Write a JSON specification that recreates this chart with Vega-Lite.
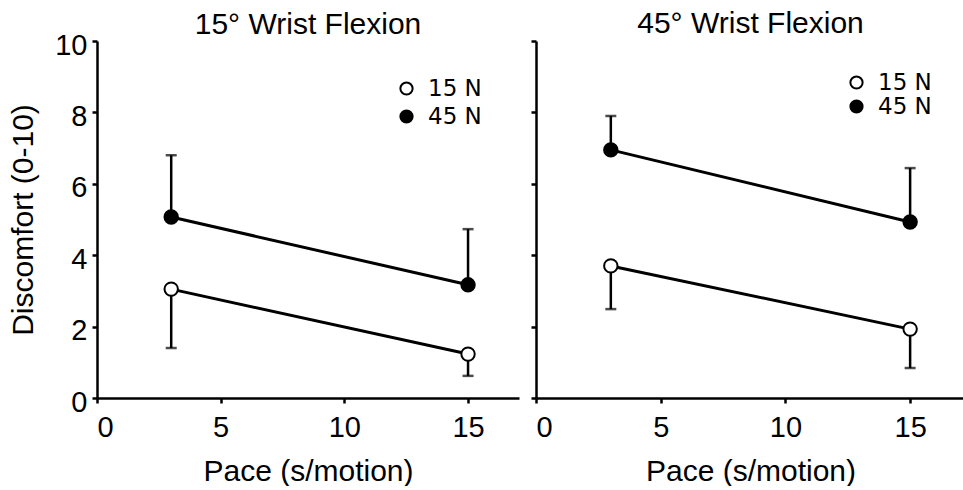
{
  "$schema": "https://vega.github.io/schema/vega-lite/v6.json",
  "padding": {"left": 8, "top": 8, "right": 0, "bottom": 0},
  "background": "white",
  "config": {
    "font": "Liberation Sans",
    "view": {"stroke": null},
    "axis": {"grid": false, "domainColor": "black", "domainWidth": 2.5, "tickColor": "black", "tickWidth": 2.5, "tickSize": 5,
      "labelFont": "Liberation Sans", "labelFontSize": 29, "labelColor": "black", "labelPadding": 10,
      "titleFont": "Liberation Sans", "titleFontSize": 30, "titleFontWeight": "normal", "titleColor": "black", "titlePadding": 14},
    "axisY": {"labelPadding": 5, "labelOffset": 4, "titlePadding": 16},
    "title": {"font": "Liberation Sans", "fontSize": 30, "fontWeight": "normal", "color": "black"},
    "legend": {"title": null, "orient": "none", "labelFont": "DejaVu Sans", "labelFontSize": 23, "labelColor": "black",
      "symbolSize": 150, "symbolType": "circle", "symbolStrokeColor": "black", "symbolStrokeWidth": 2, "labelOffset": 10, "padding": 0}
  },
  "datasets": {
    "d": [
      {"panel": "15", "force": "15 N", "pace": 3, "discomfort": 3.05, "err": 1.4},
      {"panel": "15", "force": "15 N", "pace": 15, "discomfort": 1.23, "err": 0.62},
      {"panel": "15", "force": "45 N", "pace": 3, "discomfort": 5.07, "err": 6.8},
      {"panel": "15", "force": "45 N", "pace": 15, "discomfort": 3.17, "err": 4.73},
      {"panel": "45", "force": "15 N", "pace": 3, "discomfort": 3.7, "err": 2.49},
      {"panel": "45", "force": "15 N", "pace": 15, "discomfort": 1.93, "err": 0.84},
      {"panel": "45", "force": "45 N", "pace": 3, "discomfort": 6.95, "err": 7.9},
      {"panel": "45", "force": "45 N", "pace": 15, "discomfort": 4.93, "err": 6.44}
    ]
  },
  "spacing": 10,
  "resolve": {"scale": {"fill": "independent"}, "legend": {"fill": "independent"}},
  "hconcat": [
    {
      "title": {"text": "15° Wrist Flexion", "offset": -9},
      "width": 422, "height": 357,
      "data": {"name": "d"},
      "transform": [{"filter": "datum.panel == '15'"}],
      "encoding": {
        "x": {"field": "pace", "type": "quantitative", "scale": {"domain": [0, 17.06], "nice": false}, "axis": {"values": [0, 5, 10, 15], "title": "Pace (s/motion)"}},
        "y": {"field": "discomfort", "type": "quantitative", "scale": {"domain": [0, 10], "nice": false}, "axis": {"values": [0, 2, 4, 6, 8, 10], "title": "Discomfort (0-10)"}}
      },
      "layer": [
        {"mark": {"type": "line", "color": "black", "strokeWidth": 3}, "encoding": {"detail": {"field": "force"}}},
        {"mark": {"type": "rule", "color": "black", "strokeWidth": 2.5}, "encoding": {"y2": {"field": "err"}}},
        {"mark": {"type": "tick", "orient": "horizontal", "color": "black", "size": 11, "thickness": 2.5}, "encoding": {"y": {"field": "err", "type": "quantitative"}}},
        {"mark": {"type": "point", "shape": "circle", "filled": true, "size": 180, "stroke": "black", "strokeWidth": 2, "opacity": 1},
          "encoding": {"fill": {"field": "force", "type": "nominal", "scale": {"domain": ["15 N", "45 N"], "range": ["white", "black"]},
            "legend": {"legendX": 298, "legendY": 36, "rowPadding": 4}}}}
      ]
    },
    {
      "title": {"text": "45° Wrist Flexion", "offset": 1},
      "width": 429, "height": 357,
      "data": {"name": "d"},
      "transform": [{"filter": "datum.panel == '45'"}],
      "encoding": {
        "x": {"field": "pace", "type": "quantitative", "scale": {"domain": [0, 17.2], "nice": false}, "axis": {"values": [0, 5, 10, 15], "title": "Pace (s/motion)"}},
        "y": {"field": "discomfort", "type": "quantitative", "scale": {"domain": [0, 10], "nice": false}, "axis": {"values": [0, 2, 4, 6, 8, 10], "title": null, "labels": false}}
      },
      "layer": [
        {"mark": {"type": "line", "color": "black", "strokeWidth": 3}, "encoding": {"detail": {"field": "force"}}},
        {"mark": {"type": "rule", "color": "black", "strokeWidth": 2.5}, "encoding": {"y2": {"field": "err"}}},
        {"mark": {"type": "tick", "orient": "horizontal", "color": "black", "size": 11, "thickness": 2.5}, "encoding": {"y": {"field": "err", "type": "quantitative"}}},
        {"mark": {"type": "point", "shape": "circle", "filled": true, "size": 180, "stroke": "black", "strokeWidth": 2, "opacity": 1},
          "encoding": {"fill": {"field": "force", "type": "nominal", "scale": {"domain": ["15 N", "45 N"], "range": ["white", "black"]},
            "legend": {"legendX": 309, "legendY": 30, "rowPadding": -2}}}}
      ]
    }
  ]
}
